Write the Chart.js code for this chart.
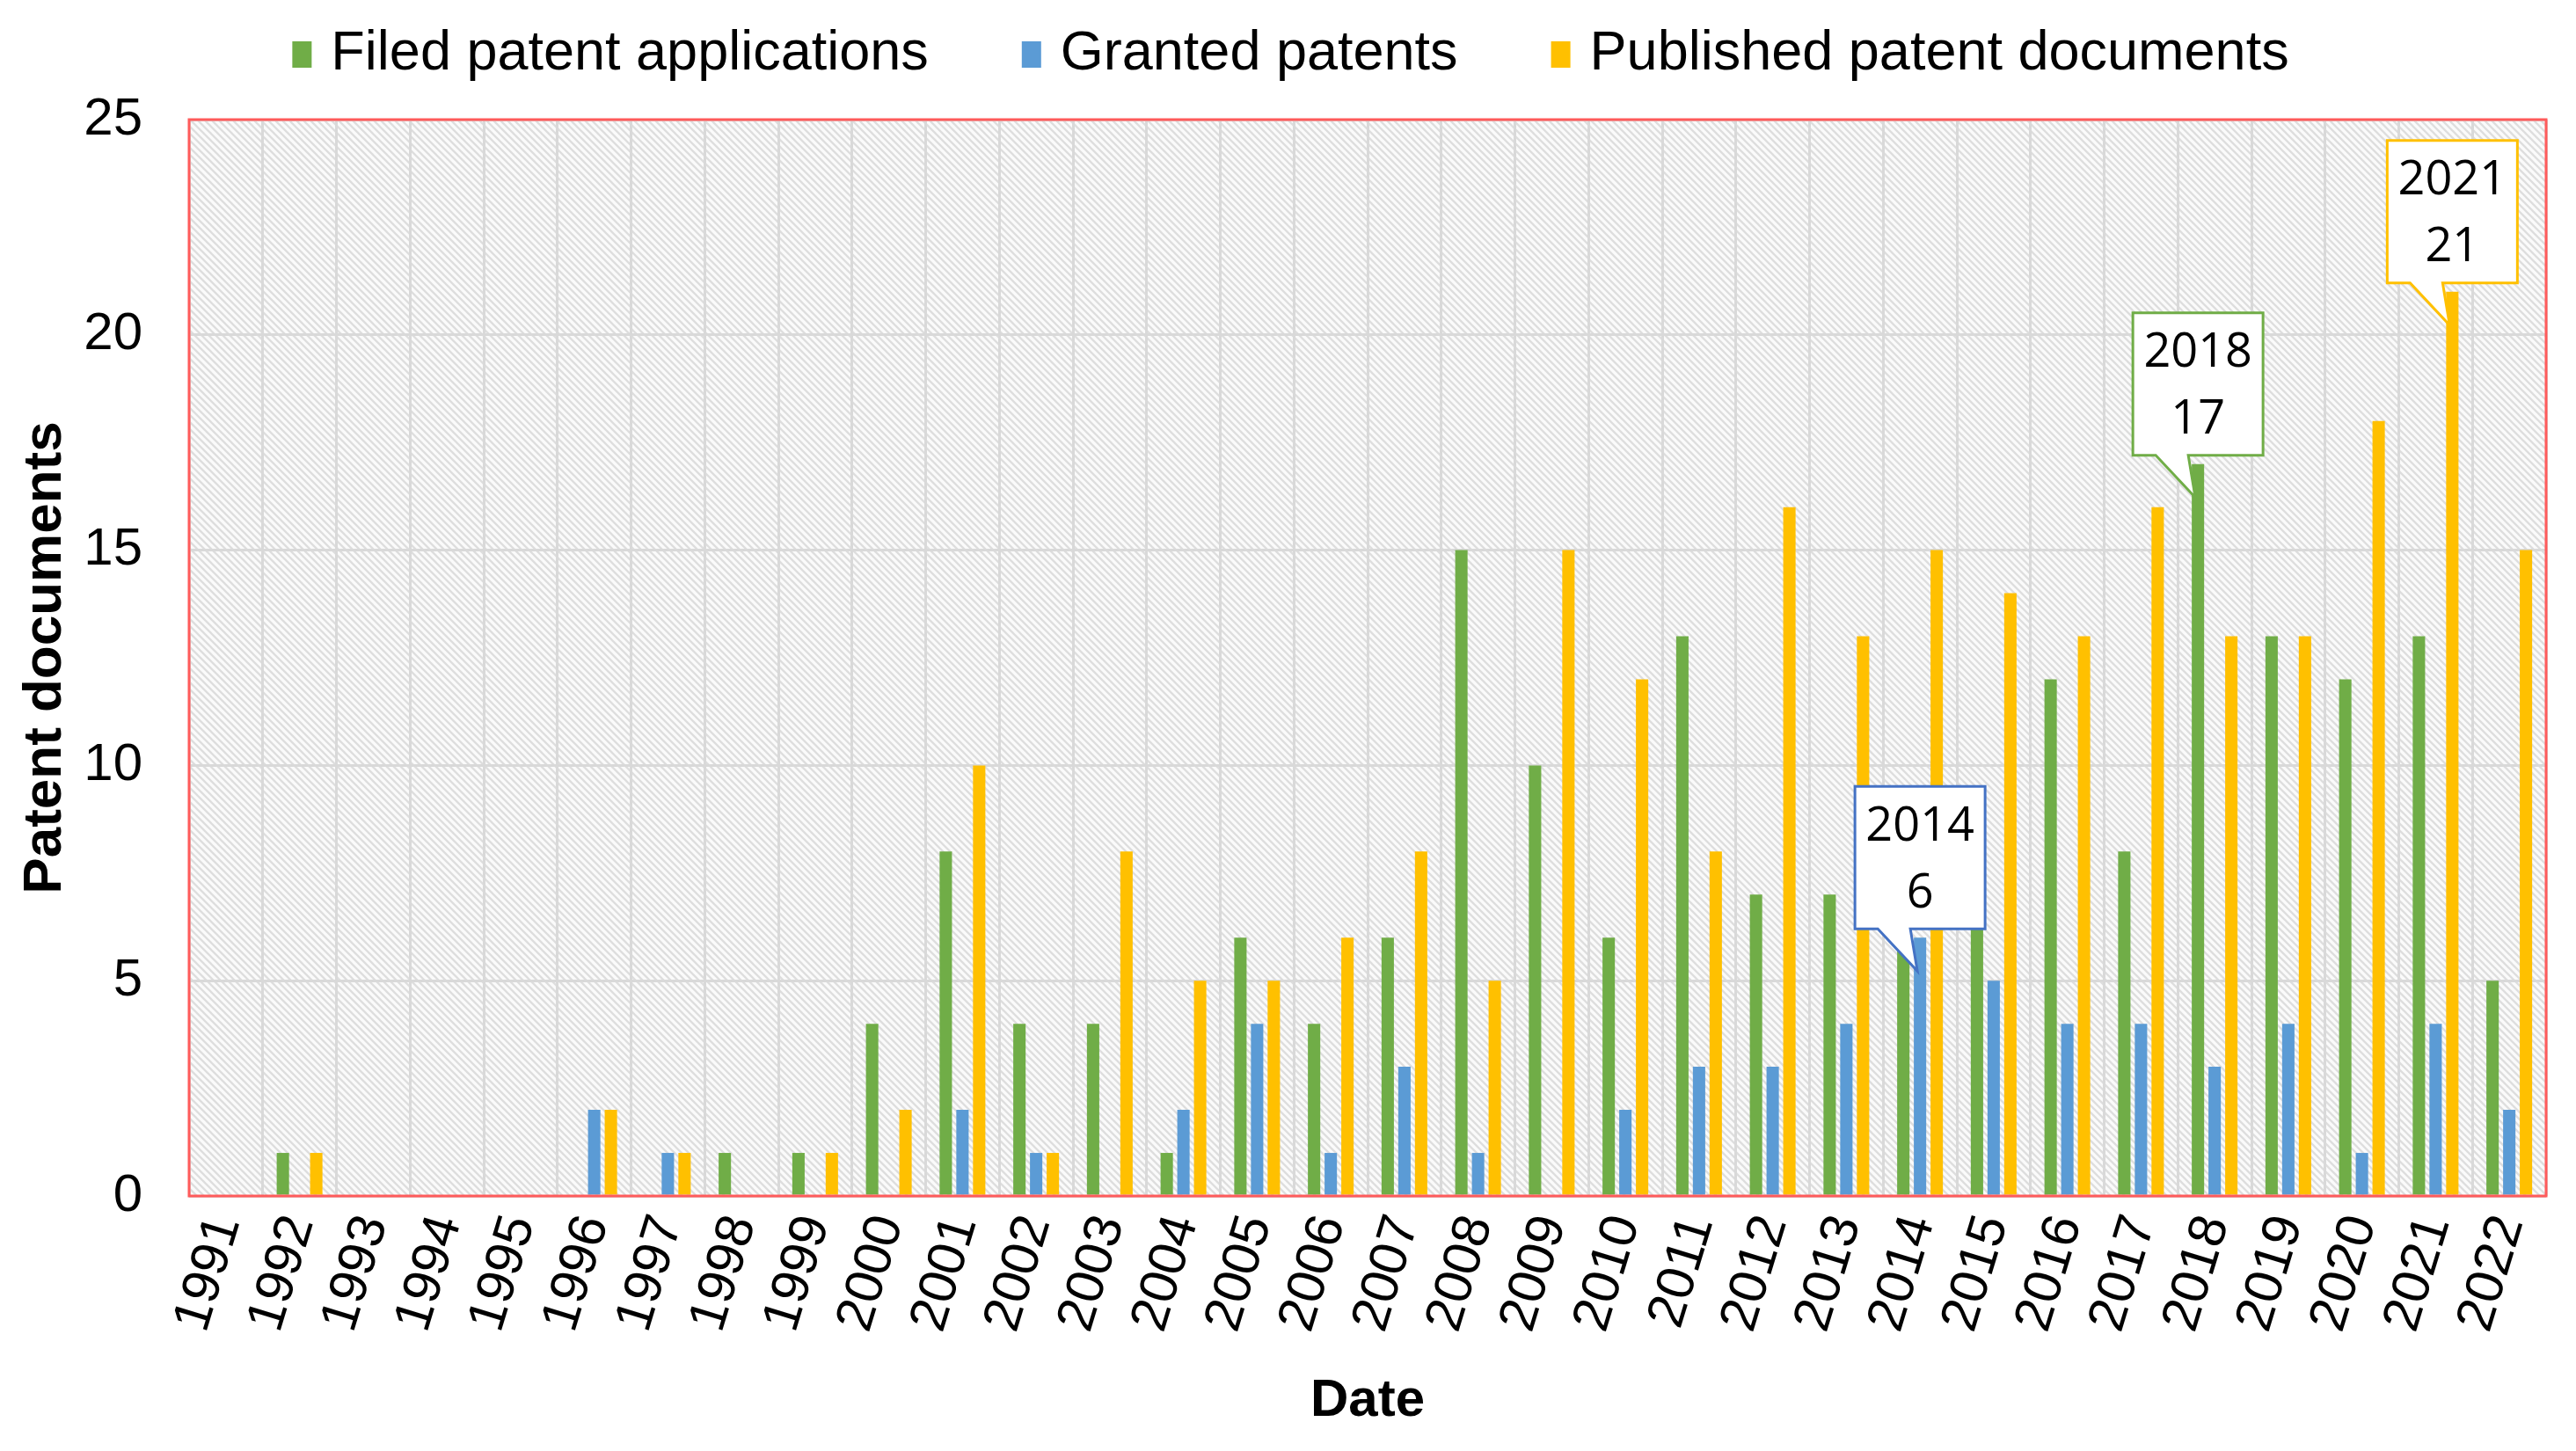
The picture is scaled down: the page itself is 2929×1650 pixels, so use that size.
<!DOCTYPE html>
<html>
<head>
<meta charset="utf-8">
<script src="https://cdn.jsdelivr.net/npm/chart.js@4.4.0/dist/chart.umd.min.js"></script>
<style>
  html, body { margin: 0; padding: 0; background: #fff; }
  #wrap { width: 2929px; height: 1650px; position: relative; }
</style>
</head>
<body>
<div id="wrap"><canvas id="chart"></canvas></div>
<script>
// dados
const years = ['1991', '1992', '1993', '1994', '1995', '1996', '1997', '1998', '1999', '2000',
  '2001', '2002', '2003', '2004', '2005', '2006', '2007', '2008', '2009', '2010',
  '2011', '2012', '2013', '2014', '2015', '2016', '2017', '2018', '2019', '2020', '2021', '2022'];
const filed = [0, 1, 0, 0, 0, 0, 0, 1, 1, 4, 8, 4, 4, 1, 6, 4, 6, 15, 10, 6, 13, 7, 7, 6, 7, 12, 8, 17, 13, 12, 13, 5];
const granted = [0, 0, 0, 0, 0, 2, 1, 0, 0, 0, 2, 1, 0, 2, 4, 1, 3, 1, 0, 2, 3, 3, 4, 6, 5, 4, 4, 3, 4, 1, 4, 2];
const published = [0, 1, 0, 0, 0, 2, 1, 0, 1, 2, 10, 1, 8, 5, 5, 6, 8, 5, 15, 12, 8, 16, 13, 15, 14, 13, 16, 13, 13, 18, 21, 15];
const yTicks = [0, 5, 10, 15, 20, 25];

// callouts (ano + série)
const calloutYears = ['2014', '2018', '2021'];
const calloutSeries = [1, 0, 2];

const FONT = "'Liberation Sans', Arial, sans-serif";
const GREEN = '#70ad47';
const BLUE = '#5b9bd5';
const YELLOW = '#ffc000';
const borderColors = [GREEN, '#4472c4', YELLOW];

// fundo hachurado
function makeHatch() {
  const c = document.createElement('canvas');
  c.width = 8; c.height = 8;
  const g = c.getContext('2d');
  g.fillStyle = '#fbfbfb';
  g.fillRect(0, 0, 8, 8);
  g.strokeStyle = '#dedede';
  g.lineWidth = 2.4;
  g.beginPath();
  g.moveTo(-2, -2); g.lineTo(10, 10);
  g.moveTo(-2, 6); g.lineTo(2, 10);
  g.moveTo(6, -2); g.lineTo(10, 2);
  g.stroke();
  return g.createPattern(c, 'repeat');
}

const hatchBg = {
  id: 'hatchBg',
  beforeDraw(chart) {
    const { ctx, chartArea: { left, top, width, height } } = chart;
    ctx.save();
    ctx.fillStyle = makeHatch();
    ctx.fillRect(left, top, width, height);
    ctx.restore();
  }
};

const frameAndCallouts = {
  id: 'frameAndCallouts',
  afterDatasetsDraw(chart) {
    const { ctx, chartArea: { left, top, width, height } } = chart;
    ctx.save();
    ctx.strokeStyle = '#ff5b5b';
    ctx.lineWidth = 3;
    ctx.strokeRect(left, top, width, height);

    calloutYears.forEach((yr, i) => {
      const s = calloutSeries[i];
      const idx = years.indexOf(yr);
      const bar = chart.getDatasetMeta(s).data[idx];
      const x = bar.x, yTop = bar.y;
      const w = 148, h = 162;
      const bx = x - w / 2, by = yTop - 10 - h;
      ctx.beginPath();
      ctx.moveTo(bx, by);
      ctx.lineTo(bx + w, by);
      ctx.lineTo(bx + w, by + h);
      ctx.lineTo(x - 11, by + h);
      ctx.lineTo(x - 3, yTop + 38);
      ctx.lineTo(x - 48, by + h);
      ctx.lineTo(bx, by + h);
      ctx.closePath();
      ctx.fillStyle = '#fff';
      ctx.fill();
      ctx.strokeStyle = borderColors[s];
      ctx.lineWidth = 3;
      ctx.stroke();
      ctx.fillStyle = '#000';
      ctx.font = "54px 'Open Sans', sans-serif";
      ctx.textAlign = 'center';
      ctx.textBaseline = 'middle';
      ctx.fillText(yr, x, by + 46);
      ctx.fillText(String(chart.data.datasets[s].data[idx]), x, by + 122);
    });
    ctx.restore();
  }
};

// legenda desenhada à mão (espaçamento do original)
const topLegend = {
  id: 'topLegend',
  afterDraw(chart) {
    const { ctx } = chart;
    ctx.save();
    ctx.font = '63px ' + FONT;
    const items = chart.data.datasets.map(d => ({ text: d.label, color: d.backgroundColor, w: ctx.measureText(d.label).width }));
    const boxW = 22, boxH = 30, gapBox = 22, gapItem = 106;
    const total = items.reduce((a, it) => a + boxW + gapBox + it.w, 0) + gapItem * (items.length - 1);
    let x = chart.width / 2 + 3 - total / 2;
    const base = 79;
    ctx.textBaseline = 'alphabetic';
    ctx.textAlign = 'left';
    items.forEach(it => {
      ctx.fillStyle = it.color;
      ctx.fillRect(x, base - 32, boxW, boxH);
      x += boxW + gapBox;
      ctx.fillStyle = '#000';
      ctx.fillText(it.text, x, base);
      x += it.w + gapItem;
    });
    ctx.restore();
  }
};

const ctx = document.getElementById('chart').getContext('2d');
new Chart(ctx, {
  type: 'bar',
  data: {
    labels: years,
    datasets: [
      { label: 'Filed patent applications', data: filed, backgroundColor: GREEN },
      { label: 'Granted patents', data: granted, backgroundColor: BLUE },
      { label: 'Published patent documents', data: published, backgroundColor: YELLOW }
    ]
  },
  options: {
    responsive: true,
    maintainAspectRatio: false,
    animation: false,
    devicePixelRatio: 1,
    datasets: { bar: { categoryPercentage: 0.68, barPercentage: 0.74 } },
    layout: { padding: { top: 136, right: 34, left: 0, bottom: 0 } },
    plugins: {
      legend: { display: false },
      tooltip: { enabled: false }
    },
    scales: {
      x: {
        grid: { color: '#d9d9d9', lineWidth: 3, drawTicks: false, offset: true },
        border: { display: false },
        ticks: {
          color: '#000',
          font: { size: 60, family: FONT },
          maxRotation: 73,
          minRotation: 73,
          autoSkip: false,
          padding: 14
        },
        title: {
          display: true,
          text: 'Date',
          color: '#000',
          font: { size: 60, weight: 'bold', family: FONT },
          padding: { bottom: 21 }
        },
        afterFit(scale) {
          scale.height = 290;
          scale.paddingLeft = 0;
          scale.paddingRight = 0;
        }
      },
      y: {
        min: 0,
        max: 25,
        afterBuildTicks(scale) { scale.ticks = yTicks.map(v => ({ value: v })); },
        grid: { color: '#d9d9d9', lineWidth: 3, drawTicks: false },
        border: { display: false },
        ticks: {
          color: '#000',
          font: { size: 60, family: FONT },
          padding: 53
        },
        title: {
          display: true,
          text: 'Patent documents',
          color: '#000',
          font: { size: 62, weight: 'bold', family: FONT },
          padding: { top: 15 }
        },
        afterFit(scale) { scale.width = 215; }
      }
    }
  },
  plugins: [hatchBg, frameAndCallouts, topLegend]
});
</script>
</body>
</html>
